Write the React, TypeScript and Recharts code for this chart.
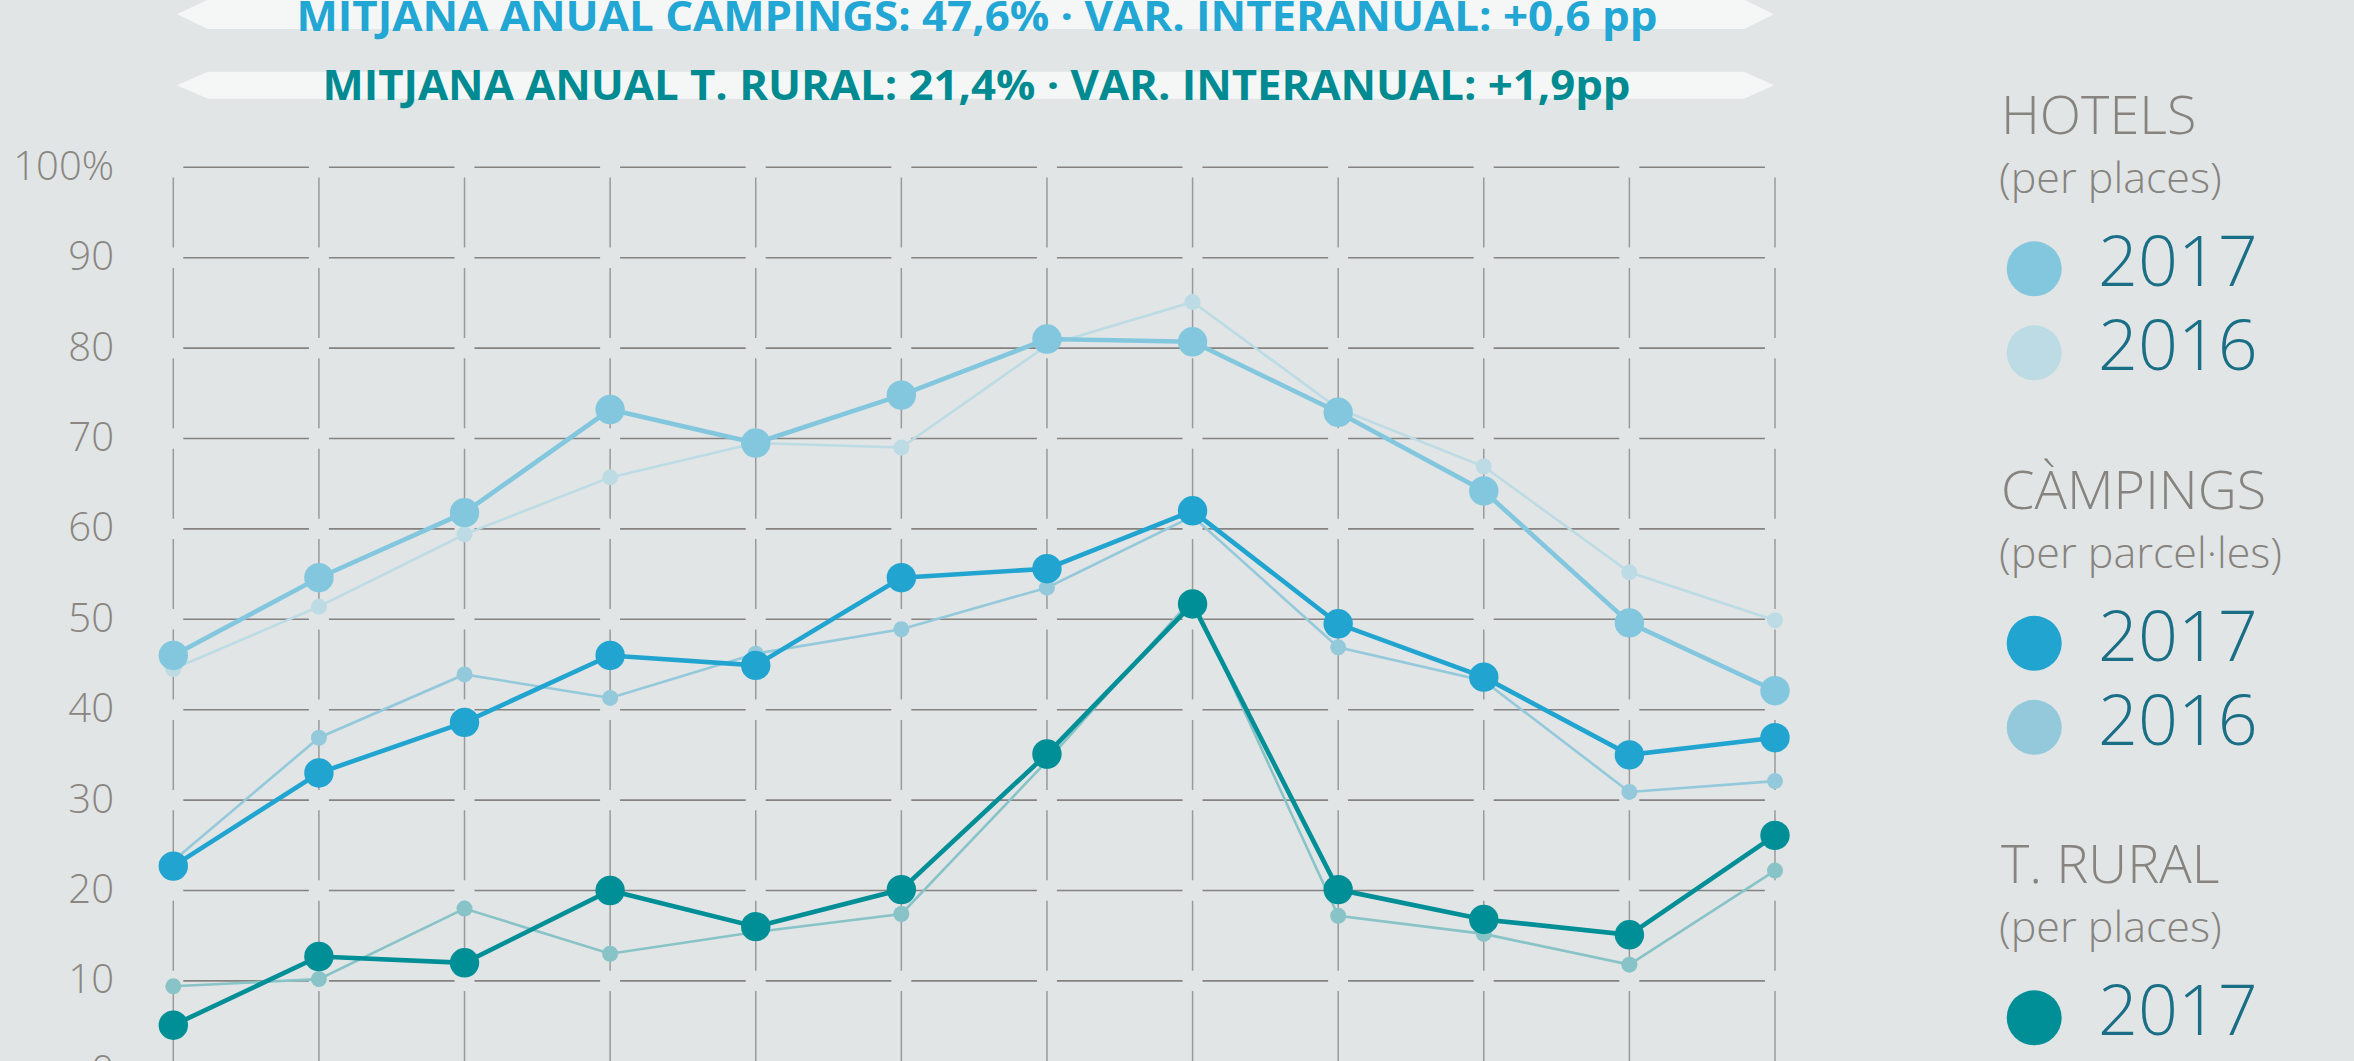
import React from 'react';
import { LineChart, Line, XAxis, YAxis, CartesianGrid } from 'recharts';

// ---------- data ----------
const months = ['Gen', 'Feb', 'Mar', 'Abr', 'Mai', 'Jun', 'Jul', 'Ago', 'Set', 'Oct', 'Nov', 'Des'];
const hotels2017 = [46.0, 54.6, 61.8, 73.2, 69.5, 74.8, 81.0, 80.7, 72.9, 64.2, 49.6, 42.1];
const hotels2016 = [44.5, 51.4, 59.4, 65.7, 69.5, 69.0, 80.3, 85.1, 73.3, 66.9, 55.2, 49.9];
const campings2017 = [22.7, 33.0, 38.6, 46.0, 44.9, 54.6, 55.6, 62.0, 49.5, 43.6, 35.0, 36.9];
const campings2016 = [23.3, 36.9, 43.9, 41.3, 46.2, 48.9, 53.5, 61.4, 46.9, 43.2, 30.9, 32.1];
const rural2017 = [5.1, 12.7, 12.0, 20.0, 16.0, 20.1, 35.1, 51.7, 20.1, 16.8, 15.1, 26.1];
const rural2016 = [9.4, 10.2, 18.0, 13.0, 15.4, 17.4, 34.3, 52.3, 17.2, 15.2, 11.8, 22.2];

const yTicks = [0, 10, 20, 30, 40, 50, 60, 70, 80, 90, 100];
const yTickLabels = ['0', '10', '20', '30', '40', '50', '60', '70', '80', '90', '100%'];

const bannerTexts = [
  'MITJANA ANUAL CAMPINGS: 47,6% · VAR. INTERANUAL: +0,6 pp',
  'MITJANA ANUAL T. RURAL: 21,4% · VAR. INTERANUAL: +1,9pp',
];

const legendTitles = ['HOTELS', 'CÀMPINGS', 'T. RURAL'];
const legendSubs = ['(per places)', '(per parcel·les)', '(per places)'];
const legendYears = ['2017', '2016'];

// ---------- styles ----------
const BG = '#e1e5e6';
const series = [
  { key: 'h16', values: hotels2016, color: '#bcdbe4', w: 2.6, r: 8 },
  { key: 'c16', values: campings2016, color: '#94c9db', w: 2.6, r: 8 },
  { key: 'r16', values: rural2016, color: '#88c3c7', w: 2.6, r: 8 },
  { key: 'h17', values: hotels2017, color: '#82c7de', w: 4.6, r: 14.7 },
  { key: 'c17', values: campings2017, color: '#21a5d0', w: 4.6, r: 14.7 },
  { key: 'r17', values: rural2017, color: '#008f96', w: 4.6, r: 14.7 },
];
const legendColors = [
  ['#82c7de', '#bcdbe4'],
  ['#21a5d0', '#94c9db'],
  ['#008f96', '#88c3c7'],
];
const bannerColors = ['#22a6d3', '#008b92'];

const data = months.map((m, i) => {
  const row: any = { month: m };
  series.forEach((s) => {
    row[s.key] = s.values[i];
  });
  return row;
});

const EmptyTick = () => <g />;

const YTick = (props: any) => {
  const { y, payload } = props;
  const idx = yTicks.indexOf(payload.value);
  return (
    <text
      x={114}
      y={y + 12.5}
      textAnchor="end"
      fill="#8a8681"
      fontSize={40}
      fontFamily="'Open Sans', sans-serif"
      fontWeight={300}
    >
      {yTickLabels[idx]}
    </text>
  );
};

const Banners = () => {
  const geo = [
    { top: -0.4, bottom: 29, x: 296.5, len: 1361, base: 31 },
    { top: 71.7, bottom: 98.7, x: 322.5, len: 1308, base: 100 },
  ];
  return (
    <g>
      {bannerTexts.map((t, i) => {
        const g = geo[i];
        const cy = (g.top + g.bottom) / 2;
        const pts = [
          [177, cy],
          [208, g.top],
          [1744, g.top],
          [1774, cy],
          [1744, g.bottom],
          [208, g.bottom],
        ]
          .map((p) => p.join(','))
          .join(' ');
        return (
          <g key={i}>
            <polygon points={pts} fill="#f5f7f7" />
            <text
              x={g.x}
              y={g.base}
              fill={bannerColors[i]}
              fontSize={41}
              fontWeight={700}
              fontFamily="'Open Sans', sans-serif"
              textLength={g.len}
              lengthAdjust="spacingAndGlyphs"
            >
              {t}
            </text>
          </g>
        );
      })}
    </g>
  );
};

const Legend = () => {
  const font = "'Open Sans', sans-serif";
  return (
    <g>
      {legendTitles.map((title, gi) => {
        const base = 134.3 + gi * 374.5;
        const dot1 = base + 134.5;
        return (
          <g key={gi}>
            <text x={2001} y={base} fill="#87837e" fontSize={54} fontWeight={300} fontFamily={font}>
              {title}
            </text>
            <text x={1999} y={base + 59} fill="#87837e" fontSize={43} fontWeight={300} fontFamily={font}>
              {legendSubs[gi]}
            </text>
            {legendYears.map((yr, yi) => {
              const cy = dot1 + yi * 84;
              return (
                <g key={yi}>
                  <circle cx={2034.2} cy={cy} r={27.5} fill={legendColors[gi][yi]} />
                  <text x={2098} y={cy + 17.5} fill="#1a6e86" fontSize={70} fontWeight={300} fontFamily={font}>
                    {yr}
                  </text>
                </g>
              );
            })}
          </g>
        );
      })}
    </g>
  );
};

export default function App() {
  return (
    <div
      style={{
        position: 'absolute',
        left: 0,
        top: 0,
        width: 2354,
        height: 1061,
        overflow: 'hidden',
        background: BG,
      }}
    >
      <div style={{ position: 'absolute', left: 0, top: 0 }}>
        <LineChart
          width={2354}
          height={1100}
          data={data}
          margin={{ top: 167.3, right: 579, bottom: 28.7, left: 0 }}
        >
          <CartesianGrid
            vertical={false}
            stroke="#858280"
            strokeWidth={1.6}
            strokeDasharray="0 10 125.6 10"
          />
          <CartesianGrid
            horizontal={false}
            stroke="#9a9a9a"
            strokeWidth={1.5}
            strokeDasharray="0 10.2 70 10.2"
          />
          <XAxis
            dataKey="month"
            height={0}
            interval={0}
            tick={EmptyTick}
            axisLine={false}
            tickLine={false}
          />
          <YAxis
            type="number"
            domain={[0, 100]}
            ticks={yTicks}
            interval={0}
            width={173.3}
            axisLine={false}
            tickLine={false}
            tick={<YTick />}
          />
          {series.map((s) => (
            <Line
              key={s.key}
              dataKey={s.key}
              type="linear"
              stroke={s.color}
              strokeWidth={s.w}
              dot={{ r: s.r, fill: s.color, stroke: 'none', strokeWidth: 0 }}
              activeDot={false}
              isAnimationActive={false}
            />
          ))}
        </LineChart>
      </div>
      <svg
        width={2354}
        height={1061}
        style={{ position: 'absolute', left: 0, top: 0, pointerEvents: 'none' }}
      >
        <Banners />
        <Legend />
      </svg>
    </div>
  );
}
